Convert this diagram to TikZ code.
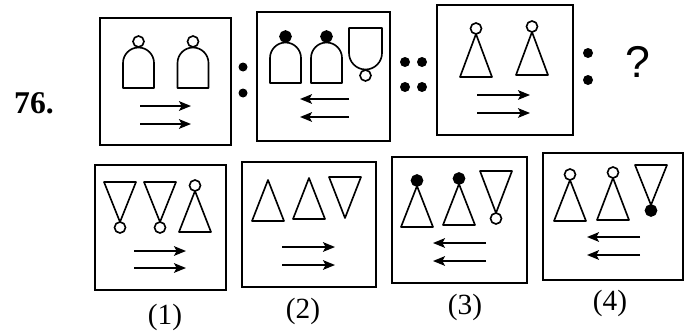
\documentclass[tikz,border=0pt]{standalone}
\usepackage{fontspec}
\setmainfont{Liberation Serif}
\setsansfont{Liberation Sans}
\usepackage{tikz}
\usetikzlibrary{arrows.meta,fit}

\newcommand{\bellup}[3]{% centre x, base y, knob fill
  \draw[shp] (#1-15.5,#2) -- (#1-15.5,#2-25) arc[start angle=180,end angle=360,radius=15.5] -- (#1+15.5,#2) -- cycle;
  \draw[shp,fill=#3] (#1,#2-46.5) circle[radius=5.5];}
\newcommand{\belldown}[3]{% centre x, top y, knob fill
  \draw[shp] (#1-16.5,#2) -- (#1-16.5,#2+25) arc[start angle=180,end angle=0,radius=16.5] -- (#1+16.5,#2) -- cycle;
  \draw[shp,fill=#3] (#1,#2+47.5) circle[radius=5.5];}
\newcommand{\tri}[3]{% apex x, apex y, side y
  \draw[shp] (#1,#2) -- (#1-16,#3) -- (#1+16,#3) -- cycle;}
\newcommand{\knob}[3]{\draw[shp,fill=#3] (#1,#2) circle[radius=5.5];}
\newcommand{\arrowpair}[4]{% from x, to x, y, y
  \draw[ar] (#1,#3) -- (#2,#3);
  \draw[ar] (#1,#4) -- (#2,#4);}

\begin{document}
\begin{tikzpicture}[x=0.03cm,y=-0.03cm,
  panel/.style={draw,line width=1.8pt,inner sep=0pt},
  shp/.style={line width=1.4pt,line join=round},
  ar/.style={-{Stealth[length=3.6mm,width=2.9mm,inset=0.8mm]},line width=1.4pt},
  lbl/.style={font=\fontsize{25}{29}\selectfont}]
\useasboundingbox (0,0) rectangle (694,336);
\node[font=\fontsize{27}{31}\selectfont\bfseries] (num) at (34,103) {76.};
\node[panel,fit={(100,18) (231,145)}] (pA) {};
\node[panel,fit={(257,12) (390,141)}] (pB) {};
\node[panel,fit={(437,5) (573,135)}]  (pC) {};
\node[font=\sffamily\fontsize{38}{42}\selectfont] (q) at (638,62) {?};
\node[panel,fit={(95,165) (226,290)}]  (p1) {};
\node[panel,fit={(242,162) (376,287)}] (p2) {};
\node[panel,fit={(392,157) (527,283)}] (p3) {};
\node[panel,fit={(543,153) (683,280)}] (p4) {};
\node[lbl] (l1) at (165,317) {(1)};
\node[lbl] (l2) at (303,311) {(2)};
\node[lbl] (l3) at (465,307) {(3)};
\node[lbl] (l4) at (610,303) {(4)};
% ratio marks
\fill (243,67) circle[radius=4.5] (243,93) circle[radius=4.5];
\fill (405,62) circle[radius=5] (422,62) circle[radius=5]
      (405,87) circle[radius=5] (422,87) circle[radius=5];
\fill (588,53) circle[radius=5] (588,80) circle[radius=5];
% question figures
\bellup{138.5}{88}{white}
\bellup{193}{88}{white}
\arrowpair{140}{191}{106}{124}
\bellup{285.5}{83}{black}
\bellup{326.5}{83}{black}
\belldown{365.5}{28}{white}
\arrowpair{349}{300}{99}{117}
\tri{476}{34}{77} \knob{476}{28.5}{white}
\tri{532}{32}{75} \knob{532}{26.5}{white}
\arrowpair{477}{530}{95}{113}
% answer figures
\tri{120}{222}{182} \knob{120}{227.5}{white}
\tri{160}{222}{182} \knob{160}{227.5}{white}
\tri{195}{191}{232} \knob{195}{185.5}{white}
\arrowpair{134}{186}{251}{268}
\tri{268}{180}{221}
\tri{309}{178}{219}
\tri{345}{218}{177}
\arrowpair{282}{335}{247}{265}
\tri{417}{186}{227} \knob{417}{180.5}{black}
\tri{459}{184}{225} \knob{459}{178.5}{black}
\tri{496}{213}{171} \knob{496}{218.5}{white}
\arrowpair{486}{433}{243}{261}
\tri{570}{180}{221} \knob{570}{174.5}{white}
\tri{613}{178}{220} \knob{613}{172.5}{white}
\tri{651}{205}{165} \knob{651}{210.5}{black}
\arrowpair{640}{587}{237}{255}
\end{tikzpicture}
\end{document}
